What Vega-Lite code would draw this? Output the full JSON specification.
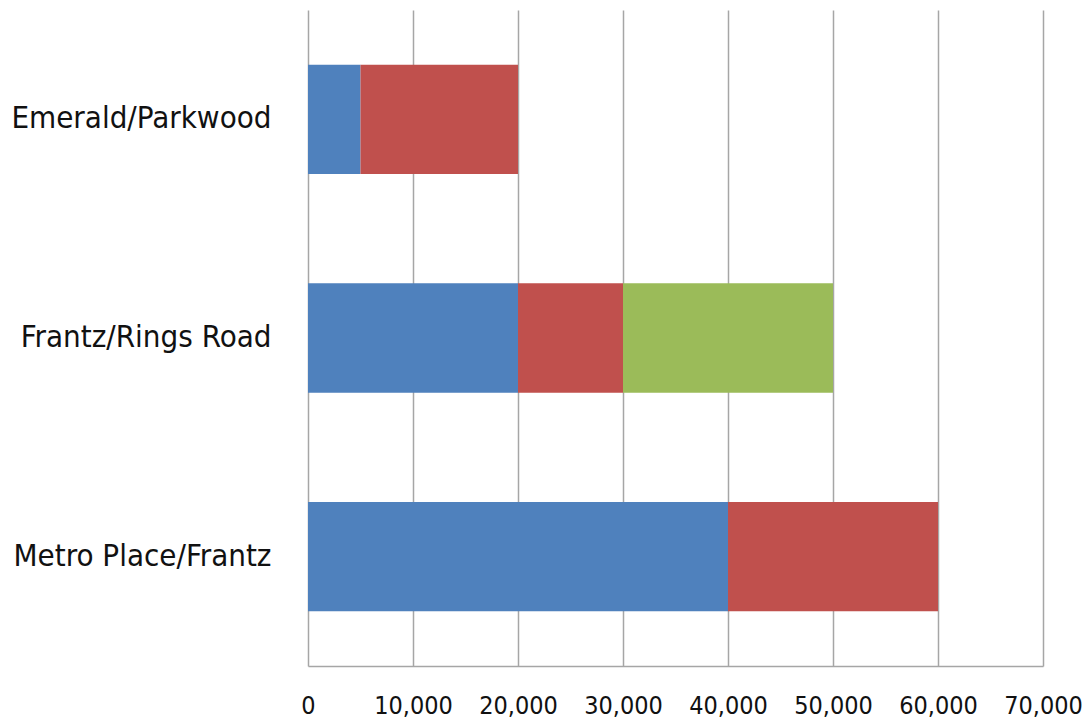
{
  "$schema": "https://vega.github.io/schema/vega-lite/v6.json",
  "width": 735,
  "height": 656,
  "autosize": {"type": "none"},
  "padding": {"left": 308, "top": 10, "right": 39, "bottom": 59},
  "background": "white",
  "config": {"view": {"stroke": null}},
  "data": {"values": [
    {"site": "Emerald/Parkwood", "series": "Series 1", "ord": 1, "value": 5000},
    {"site": "Emerald/Parkwood", "series": "Series 2", "ord": 2, "value": 15000},
    {"site": "Frantz/Rings Road", "series": "Series 1", "ord": 1, "value": 20000},
    {"site": "Frantz/Rings Road", "series": "Series 2", "ord": 2, "value": 10000},
    {"site": "Frantz/Rings Road", "series": "Series 3", "ord": 3, "value": 20000},
    {"site": "Metro Place/Frantz", "series": "Series 1", "ord": 1, "value": 40000},
    {"site": "Metro Place/Frantz", "series": "Series 2", "ord": 2, "value": 20000}
  ]},
  "mark": {"type": "bar"},
  "encoding": {
    "y": {
      "field": "site", "type": "nominal",
      "sort": ["Emerald/Parkwood", "Frantz/Rings Road", "Metro Place/Frantz"],
      "scale": {"paddingInner": 0.5, "paddingOuter": 0.25},
      "axis": {
        "title": null, "ticks": false, "domain": false, "grid": false,
        "labelFont": "DejaVu Sans Condensed", "labelFontSize": 31, "labelLimit": 0,
        "labelColor": "#111111", "labelPadding": 37
      }
    },
    "x": {
      "field": "value", "type": "quantitative", "stack": "zero",
      "scale": {"domain": [0, 70000], "nice": false},
      "axis": {
        "title": null, "values": [0,10000,20000,30000,40000,50000,60000,70000],
        "format": ",d", "ticks": false, "labelOverlap": false,
        "domain": true, "domainColor": "#A6A6A6", "domainWidth": 1.5,
        "grid": true, "gridColor": "#A6A6A6", "gridWidth": 1.5,
        "labelFont": "DejaVu Sans Condensed", "labelFontSize": 25,
        "labelColor": "#111111", "labelPadding": 27, "labelFlush": false,
        "labelBaseline": "top"
      }
    },
    "color": {
      "field": "series", "type": "nominal",
      "scale": {"domain": ["Series 1", "Series 2", "Series 3"], "range": ["#4F81BD", "#C0504D", "#9BBB59"]},
      "legend": null
    },
    "order": {"field": "ord", "type": "quantitative"}
  }
}
